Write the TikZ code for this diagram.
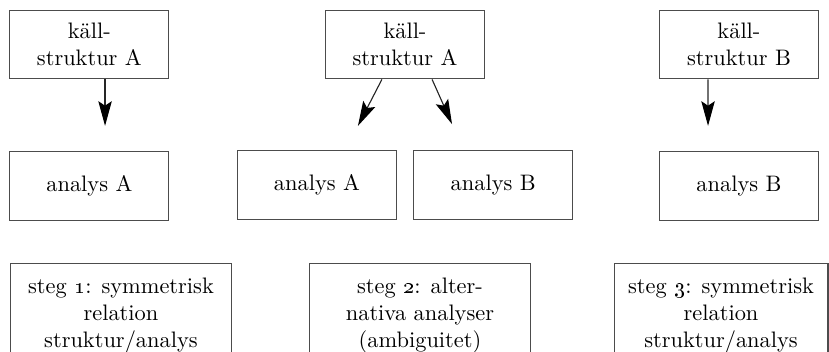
\documentclass[tikz,border=0pt]{standalone}
\usepackage{tikz}
\usetikzlibrary{arrows.meta,positioning}

\begin{document}
\begin{tikzpicture}[->,>={Stealth[length=11pt,width=6pt,inset=2pt,black]},x=1pt,y=1pt,
    node distance=32pt,
    box/.style={draw=black!70,line width=0.5pt,align=center,
      minimum width=71pt,minimum height=30.6pt,inner sep=2pt},
    stegbox/.style={draw=black!70,line width=0.5pt,align=center,anchor=north,
      minimum width=99pt,minimum height=44pt,inner ysep=3pt,
      text depth=0pt}]
  \clip (0,0) rectangle (370.1,-157.1);

  \node[box] (k1) at (39.9,-19.9) {käll-\\struktur A};
  \node[box] (a1) [below=of k1] {analys A};

  \node[box] (k2) at (180.8,-19.9) {käll-\\struktur A};
  \node[box] (a2) at (141.5,-82.6) {analys A};
  \node[box] (b2) [right=7.2pt of a2] {analys B};

  \node[box] (k3) at (329.9,-19.9) {käll-\\struktur B};
  \node[box] (b3) [below=of k3] {analys B};

  \node[stegbox] (s1) at (54.0,-117.4)
    {steg \oldstylenums{1}: symmetrisk\\relation\\struktur/analys};
  \node[stegbox] (s2) at (187.5,-117.4)
    {steg \oldstylenums{2}: alter-\\nativa analyser\\(ambiguitet)};
  \node[stegbox,minimum width=95.5pt] (s3) at (321.9,-117.4)
    {steg \oldstylenums{3}: symmetrisk\\relation\\struktur/analys};

  % arrow tips end short of the analys boxes
  \coordinate (t1) at (46.9,-56.2);
  \coordinate (t2) at (159.8,-56.2);
  \coordinate (t3) at (201.8,-55.4);
  \coordinate (t4) at (316.1,-56.2);

  \draw[black!85,line width=0.5pt] ([xshift=7pt]k1.south) -- (t1);
  \draw[black!85,line width=0.5pt] ([xshift=-10.3pt]k2.south) -- (t2);
  \draw[black!85,line width=0.5pt] ([xshift=12.1pt]k2.south) -- (t3);
  \draw[black!85,line width=0.5pt] ([xshift=-13.8pt]k3.south) -- (t4);
\end{tikzpicture}
\end{document}
